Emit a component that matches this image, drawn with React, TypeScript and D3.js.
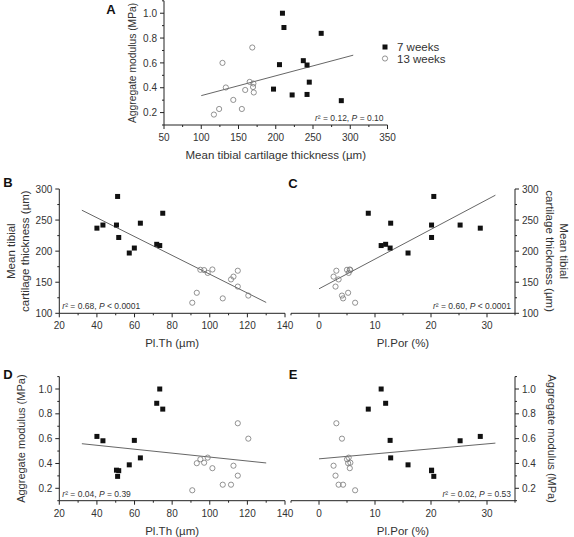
import React from 'react';
import * as d3 from 'd3';

// ---- data: 7-week animals (filled squares) ----
const plTh7 = [73.4, 71.8, 75.0, 59.9, 40.0, 43.2, 63.1, 57.2, 51.6, 50.4, 51.0];
const plPor7 = [11.1, 11.9, 8.8, 12.7, 28.8, 25.2, 12.8, 15.9, 20.1, 20.1, 20.5];
const thick7 = [209, 211, 261, 205, 237, 242, 245, 197, 222, 242, 288];
const mod7 = [1.0, 0.885, 0.838, 0.586, 0.618, 0.583, 0.445, 0.389, 0.342, 0.346, 0.296];

// ---- data: 13-week animals (open circles) ----
const plTh13 = [90.7, 93.1, 95.0, 97.0, 98.9, 101.4, 106.9, 111.3, 112.6, 114.9, 114.9, 120.5];
const plPor13 = [6.45, 5.2, 5.0, 5.6, 5.3, 5.5, 4.3, 3.5, 2.6, 3.1, 2.95, 4.1];
const thick13 = [117, 133, 170, 169.5, 165, 170.5, 124, 154.5, 159, 168.5, 143, 128.5];
const mod13 = [0.184, 0.402, 0.434, 0.406, 0.447, 0.362, 0.229, 0.229, 0.382, 0.724, 0.302, 0.6];

// ---- tick values ----
const modTicks = [0.2, 0.4, 0.6, 0.8, 1.0];
const modMinor = [0.1, 0.3, 0.5, 0.7, 0.9, 1.1];
const thickXTicks = [50, 100, 150, 200, 250, 300, 350];
const thickXMinor = [75, 125, 175, 225, 275, 325];
const thickYTicks = [100, 150, 200, 250, 300];
const thickYMinor = [125, 175, 225, 275];
const plThTicks = [20, 40, 60, 80, 100, 120, 140];
const plThMinor = [30, 50, 70, 90, 110, 130];
const plPorTicks = [0, 10, 20, 30];
const plPorMinor = [-5, 5, 15, 25, 35];

// ---- fit line extents ----
const fitA = [100, 304];
const fitTh = [32, 130];
const fitPor = [0, 31.5];

const legendLabels = ['7 weeks', '13 weeks'];
const statsA = ['0.12', '=', '0.10'];
const statsB = ['0.68', '<', '0.0001'];
const statsC = ['0.60', '<', '0.0001'];
const statsD = ['0.04', '=', '0.39'];
const statsE = ['0.02', '=', '0.53'];

const FONT = 'Liberation Sans, Arial, Helvetica, sans-serif';
const TXT = '#333';
const AX = '#222';

function fit(xs: number[], ys: number[]) {
  const mx = d3.mean(xs) as number;
  const my = d3.mean(ys) as number;
  let sxy = 0, sxx = 0;
  xs.forEach((x, i) => { sxy += (x - mx) * (ys[i] - my); sxx += (x - mx) * (x - mx); });
  const b = sxy / sxx;
  return (x: number) => my + b * (x - mx);
}

type PanelProps = {
  x: d3.ScaleLinear<number, number>;
  y: d3.ScaleLinear<number, number>;
  side: 'left' | 'right';
  xTicks: number[]; xMinor: number[];
  yTicks: number[]; yMinor: number[];
  yFmt: (v: number) => string;
  xs7: number[]; ys7: number[]; xs13: number[]; ys13: number[];
  fitRange: number[];
  stats: string[];
  statsAlign: 'start' | 'end';
  letter: string; letterPos: [number, number];
  xTitle: string;
  yTitle: string[];
  yTitleX: number;
  yTitleSize: number;
};

function Panel(p: PanelProps) {
  const [x0, x1] = p.x.range();
  const [y0, y1] = p.y.range();
  const axX = p.side === 'left' ? x0 : x1;
  const dir = p.side === 'left' ? -1 : 1;
  const f = fit([...p.xs7, ...p.xs13], [...p.ys7, ...p.ys13]);
  const xmid = (x0 + x1) / 2;
  const ymid = (y0 + y1) / 2;
  const statX = p.statsAlign === 'start' ? x0 + 3 : x1 - 4;
  return (
    <g>
      {/* axes */}
      <line x1={x0} x2={x1} y1={y0} y2={y0} stroke={AX} strokeWidth={1} />
      <line x1={axX} x2={axX} y1={y0} y2={y1} stroke={AX} strokeWidth={1} />
      {p.xTicks.map(v => (
        <g key={'xt' + v}>
          <line x1={p.x(v)} x2={p.x(v)} y1={y0} y2={y0 + 4} stroke={AX} />
          <text x={p.x(v)} y={y0 + 16} textAnchor="middle" fontSize={10} fill={TXT}>{v}</text>
        </g>
      ))}
      {p.xMinor.map(v => (
        <line key={'xm' + v} x1={p.x(v)} x2={p.x(v)} y1={y0} y2={y0 + 2} stroke={AX} />
      ))}
      {p.yTicks.map(v => (
        <g key={'yt' + v}>
          <line x1={axX} x2={axX + dir * 4} y1={p.y(v)} y2={p.y(v)} stroke={AX} />
          <text x={axX + dir * 7} y={p.y(v) + 3.6} textAnchor={p.side === 'left' ? 'end' : 'start'} fontSize={10} fill={TXT}>{p.yFmt(v)}</text>
        </g>
      ))}
      {p.yMinor.map(v => (
        <line key={'ym' + v} x1={axX} x2={axX + dir * 2} y1={p.y(v)} y2={p.y(v)} stroke={AX} />
      ))}
      {/* fit line */}
      <line x1={p.x(p.fitRange[0])} x2={p.x(p.fitRange[1])} y1={p.y(f(p.fitRange[0]))} y2={p.y(f(p.fitRange[1]))} stroke="#555" strokeWidth={0.9} />
      {/* points */}
      {p.xs13.map((v, i) => (
        <circle key={'c' + i} cx={p.x(v)} cy={p.y(p.ys13[i])} r={2.6} fill="#fff" fillOpacity={0} stroke="#777" strokeWidth={0.8} />
      ))}
      {p.xs7.map((v, i) => (
        <rect key={'s' + i} x={p.x(v) - 2.5} y={p.y(p.ys7[i]) - 2.5} width={5} height={5} fill="#111" />
      ))}
      {/* stats */}
      <text x={statX} y={y0 - 4} textAnchor={p.statsAlign} fontSize={8.5} fill={TXT}>
        <tspan fontStyle="italic">r</tspan><tspan>{'² = ' + p.stats[0] + ', '}</tspan>
        <tspan fontStyle="italic">P</tspan><tspan>{' ' + p.stats[1] + ' ' + p.stats[2]}</tspan>
      </text>
      {/* letter */}
      <text x={p.letterPos[0]} y={p.letterPos[1]} textAnchor="middle" fontSize={13} fontWeight="bold" fill="#111">{p.letter}</text>
      {/* titles */}
      <text x={xmid} y={y0 + 34} textAnchor="middle" fontSize={11.5} fill={TXT}>{p.xTitle}</text>
      <text transform={`translate(${p.yTitleX},${ymid}) rotate(${p.side === 'left' ? -90 : 90})`} textAnchor="middle" fontSize={p.yTitleSize} fill={TXT}>
        {p.yTitle.map((t, i) => (
          <tspan key={i} x={0} dy={i === 0 ? (p.yTitle.length > 1 ? -3 : 4) : 14}>{t}</tspan>
        ))}
      </text>
    </g>
  );
}

export default function App() {
  const fmt1 = d3.format('.1f');
  const fmtD = (v: number) => String(v);

  const xA = d3.scaleLinear().domain([50, 350]).range([164, 387.5]);
  const yA = d3.scaleLinear().domain([0.1, 1.1]).range([125, 0.8]);
  const xB = d3.scaleLinear().domain([20, 140]).range([59.3, 285]);
  const yB = d3.scaleLinear().domain([100, 300]).range([313.3, 189]);
  const xC = d3.scaleLinear().domain([-5, 35]).range([291, 515]);
  const yC = yB;
  const xD = xB;
  const yD = d3.scaleLinear().domain([0.1, 1.1]).range([500.7, 376.6]);
  const xE = xC;
  const yE = yD;

  return (
    <svg width={574} height={537} style={{ position: 'absolute', left: 0, top: 0, background: '#fff' }} fontFamily={FONT}>
      <rect width={574} height={537} fill="#fff" />
      <Panel x={xA} y={yA} side="left" xTicks={thickXTicks} xMinor={thickXMinor} yTicks={modTicks} yMinor={modMinor}
        yFmt={fmt1} xs7={thick7} ys7={mod7} xs13={thick13} ys13={mod13} fitRange={fitA} stats={statsA} statsAlign="end"
        letter="A" letterPos={[111, 14]} xTitle="Mean tibial cartilage thickness (µm)" yTitle={['Aggregate modulus (MPa)']} yTitleX={132} yTitleSize={10.3} />
      <Panel x={xB} y={yB} side="left" xTicks={plThTicks} xMinor={plThMinor} yTicks={thickYTicks} yMinor={thickYMinor}
        yFmt={fmtD} xs7={plTh7} ys7={thick7} xs13={plTh13} ys13={thick13} fitRange={fitTh} stats={statsB} statsAlign="start"
        letter="B" letterPos={[8, 187]} xTitle="Pl.Th (µm)" yTitle={['Mean tibial', 'cartilage thickness (µm)']} yTitleX={18} yTitleSize={11.5} />
      <Panel x={xC} y={yC} side="right" xTicks={plPorTicks} xMinor={plPorMinor} yTicks={thickYTicks} yMinor={thickYMinor}
        yFmt={fmtD} xs7={plPor7} ys7={thick7} xs13={plPor13} ys13={thick13} fitRange={fitPor} stats={statsC} statsAlign="end"
        letter="C" letterPos={[293, 188]} xTitle="Pl.Por (%)" yTitle={['Mean tibial', 'cartilage thickness (µm)']} yTitleX={557} yTitleSize={11.5} />
      <Panel x={xD} y={yD} side="left" xTicks={plThTicks} xMinor={plThMinor} yTicks={modTicks} yMinor={modMinor}
        yFmt={fmt1} xs7={plTh7} ys7={mod7} xs13={plTh13} ys13={mod13} fitRange={fitTh} stats={statsD} statsAlign="start"
        letter="D" letterPos={[8, 379]} xTitle="Pl.Th (µm)" yTitle={['Aggregate modulus (MPa)']} yTitleX={21} yTitleSize={11} />
      <Panel x={xE} y={yE} side="right" xTicks={plPorTicks} xMinor={plPorMinor} yTicks={modTicks} yMinor={modMinor}
        yFmt={fmt1} xs7={plPor7} ys7={mod7} xs13={plPor13} ys13={mod13} fitRange={fitPor} stats={statsE} statsAlign="end"
        letter="E" letterPos={[293, 379]} xTitle="Pl.Por (%)" yTitle={['Aggregate modulus (MPa)']} yTitleX={552} yTitleSize={11} />
      {/* legend */}
      <g fontSize={11.5} fill={TXT}>
        <rect x={382.5} y={44.5} width={5} height={5} fill="#111" />
        <text x={397} y={51}>{legendLabels[0]}</text>
        <circle cx={385} cy={58.5} r={2.6} fill="none" stroke="#777" strokeWidth={0.8} />
        <text x={397} y={62.5}>{legendLabels[1]}</text>
      </g>
    </svg>
  );
}
